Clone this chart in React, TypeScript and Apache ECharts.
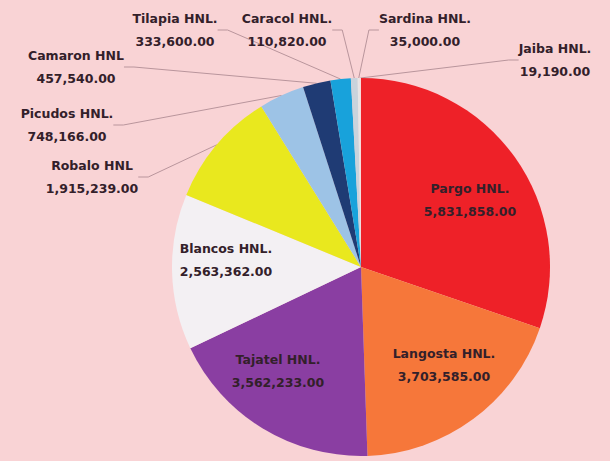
import React, { useEffect, useRef } from "react";
import * as echarts from "echarts";

const CATEGORIES = [
  "Pargo HNL.",
  "Langosta HNL.",
  "Tajatel HNL.",
  "Blancos HNL.",
  "Robalo HNL",
  "Picudos HNL.",
  "Camaron HNL",
  "Tilapia HNL.",
  "Caracol HNL.",
  "Sardina HNL.",
  "Jaiba HNL.",
];
const VALUES = [5831858, 3703585, 3562233, 2563362, 1915239, 748166, 457540, 333600, 110820, 35000, 19190];
const COLORS = [
  "#ee2128",
  "#f6773a",
  "#8a3ea2",
  "#f3f0f3",
  "#e9e81e",
  "#9dc3e6",
  "#1f3b74",
  "#18a2db",
  "#c9d3dc",
  "#e6e6e6",
  "#f6dada",
];
const INSIDE = [true, true, true, true, false, false, false, false, false, false, false];
// label centre positions (layout)
const LABEL_POS: [number, number][] = [
  [470, 200],
  [444, 365],
  [278, 371],
  [226, 260],
  [92, 177],
  [67, 125],
  [76, 67],
  [175, 30],
  [287, 30],
  [425, 30],
  [555, 60],
];

const fmt = (v: number) =>
  v.toLocaleString("en-US", { minimumFractionDigits: 2, maximumFractionDigits: 2 });

export default function App() {
  const ref = useRef<HTMLDivElement>(null);
  useEffect(() => {
    const chart = echarts.init(ref.current!, undefined, { renderer: "svg" });
    chart.setOption({
      animation: false,
      backgroundColor: "#f9d3d5",
      series: [
        {
          type: "pie",
          center: [361, 267],
          radius: 189,
          startAngle: 90,
          clockwise: true,
          avoidLabelOverlap: false,
          data: CATEGORIES.map((name, i) => ({
            name,
            value: VALUES[i],
            itemStyle: { color: COLORS[i] },
            label: { position: INSIDE[i] ? "inside" : "outside" },
            labelLine: { show: !INSIDE[i] },
          })),
          label: {
            formatter: (p: any) => `${p.name}\n${fmt(p.value)}`,
            color: "#33202a",
            fontFamily: "DejaVu Sans, sans-serif",
            fontWeight: "bold",
            fontSize: 12.5,
            lineHeight: 23,
            align: "center",
          },
          labelLine: {
            show: true,
            length: 10,
            length2: 10,
            lineStyle: { color: "#b9959c", width: 1 },
          },
          labelLayout: (params: any) => {
            const p = LABEL_POS[params.dataIndex];
            return { x: p[0], y: p[1], align: "center", verticalAlign: "middle" };
          },
        },
      ],
    });
    return () => chart.dispose();
  }, []);
  return (
    <div
      ref={ref}
      style={{ position: "fixed", left: 0, top: 0, width: 610, height: 461 }}
    />
  );
}
